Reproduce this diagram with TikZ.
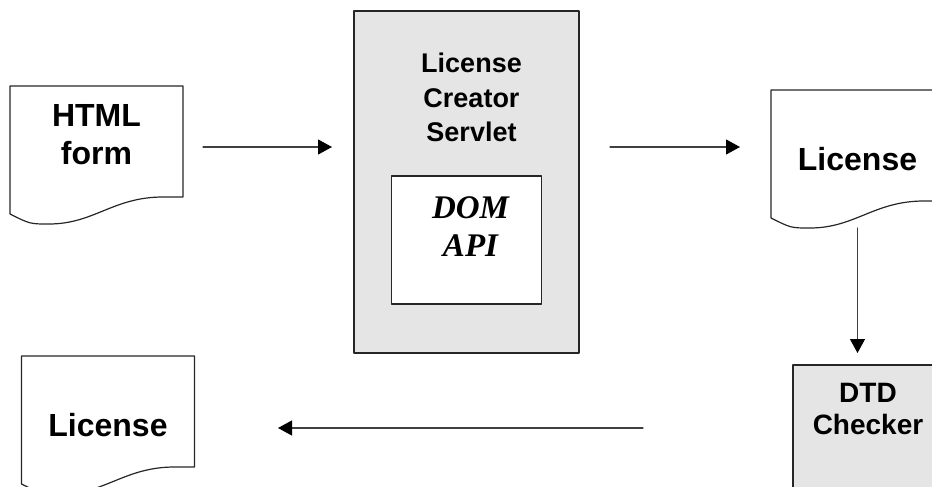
\documentclass[tikz,border=0pt]{standalone}
\usepackage{fontspec}
\setmainfont{Liberation Sans}
\newfontfamily\domfont{Liberation Serif}
\usetikzlibrary{arrows.meta,positioning}

\tikzset{
    sheetline/.style={draw=black!85,line width=0.6pt},
    sheet/.style={minimum width=86.5pt,minimum height=69pt,inner sep=0pt,outer sep=0pt,
        font=\fontsize{16}{19}\selectfont\bfseries,align=center},
    graybox/.style={draw=black!85,line width=0.6pt,fill=black!10,inner sep=0pt,outer sep=0pt},
    whitebox/.style={draw=black!85,line width=0.6pt,fill=white,inner sep=0pt,outer sep=0pt},
    boxtext/.style={font=\fontsize{13.5}{17.25}\selectfont\bfseries,align=center,inner sep=0pt},
    domtext/.style={font=\fontsize{16.5}{19}\selectfont\domfont\bfseries\itshape,align=center,inner sep=0pt},
    flow/.style={-{Triangle[length=7pt,width=7.5pt,black]},line width=0.6pt,draw=black!75}
}

% page outline with the wavy lower edge
\newcommand{\sheetedge}[1]{%
    \draw[sheetline] (#1.north west) -- (#1.north east) -- ([yshift=13.5pt]#1.south east)
        -- ([xshift=-10pt,yshift=13.5pt]#1.south east)
        .. controls ([xshift=-35pt,yshift=13.5pt]#1.south east) and ([xshift=42pt]#1.south west) .. ([xshift=19.5pt]#1.south west)
        .. controls ([xshift=10pt]#1.south west) .. ([yshift=5pt]#1.south west) -- cycle;}

\begin{document}
\begin{tikzpicture}[line cap=round,line join=round,x=0.5pt,y=-0.5pt]
    \useasboundingbox (0,0) rectangle (932,487);
    \clip (0,0) rectangle (932,487);

    % documents
    \node[sheet,label={[boxtext,font=\fontsize{16}{19}\selectfont\bfseries,yshift=10.25pt]center:{HTML\\form}}] (html) at (96.5,155) {};
    \node[sheet] (lic) at (857.5,159) {License};
    \node[sheet] (licout) at (108,425) {License};
    \sheetedge{html}
    \sheetedge{lic}
    \sheetedge{licout}

    % servlet with the DOM inside
    \node[graybox,minimum width=112.5pt,minimum height=171pt] (servlet) at (466.5,182) {};
    \node[boxtext,below=21pt of servlet.north,xshift=2.5pt] (servlettitle) {License\\Creator\\Servlet};
    \node[whitebox,minimum width=75pt,minimum height=64pt,below=82.5pt of servlet.north] (dom) {};
    \node[domtext,below=10pt of dom.north,xshift=2pt] (domtitle) {DOM\\API};

    % checker
    \node[graybox,minimum width=75pt,minimum height=75pt,anchor=north west] (dtd) at (793,365) {};
    \node[boxtext,font=\fontsize{14}{16}\selectfont\bfseries,below=9pt of dtd.north] (dtdtitle) {DTD\\Checker};

    % arrows
    \coordinate (toprow) at ([yshift=4pt]html.east);
    \coordinate (backrow) at ([yshift=-1.5pt]licout.east);
    \draw[flow,shorten <=10pt,shorten >=11pt] (toprow) -- (toprow -| servlet.west);
    \draw[flow,shorten <=15.5pt,shorten >=15.5pt] (toprow -| servlet.east) -- (toprow -| lic.west);
    \draw[flow,shorten >=6pt] (lic.south) -- (lic.south |- dtd.north);
    \draw[flow,shorten <=75pt,shorten >=41.75pt] (backrow -| dtd.west) -- (backrow);
\end{tikzpicture}
\end{document}
